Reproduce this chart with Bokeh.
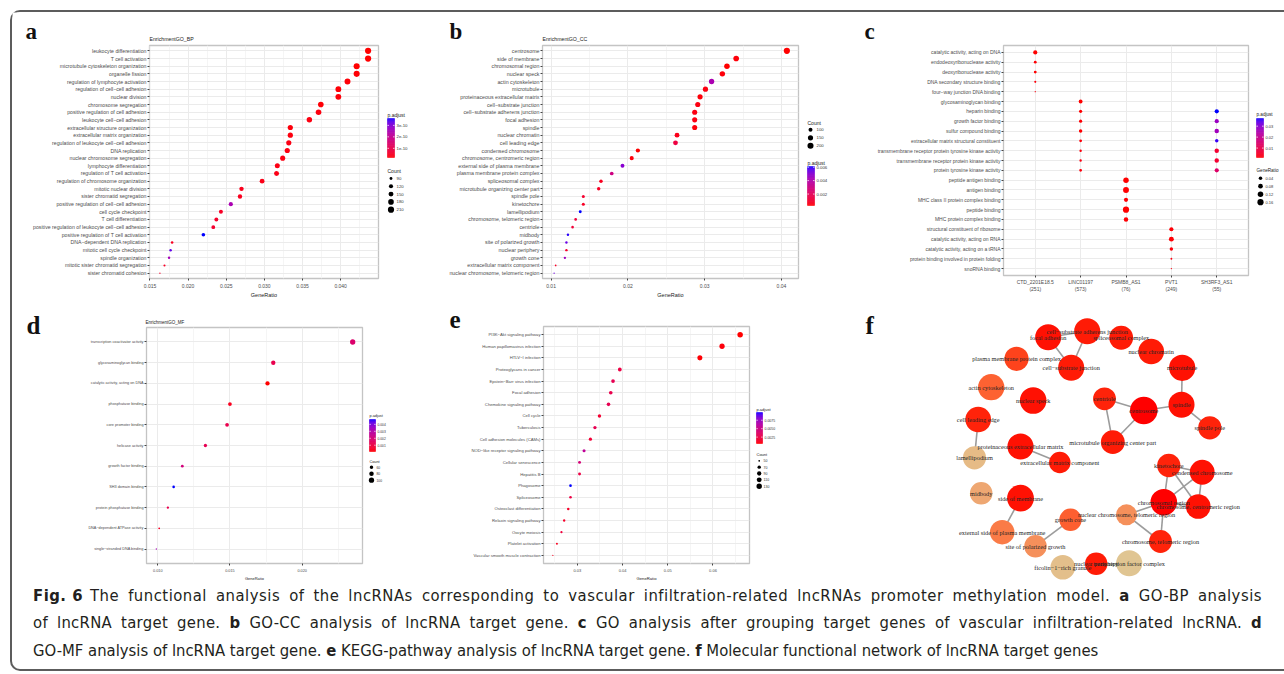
import numpy as np
from bokeh.plotting import figure
from bokeh.models import ColumnDataSource, Range1d, FactorRange, LinearColorMapper, FixedTicker, PrintfTickFormatter, Div
from bokeh.layouts import row, column
from bokeh.core.properties import value
from bokeh.embed import file_html
from bokeh.resources import INLINE

SANS = "Liberation Sans"
SERIF = "Liberation Serif"

# ------------------------------------------------------------------ DATA
# (a) GO biological process
bp_terms = ["leukocyte differentiation", "T cell activation", "microtubule cytoskeleton organization",
            "organelle fission", "regulation of lymphocyte activation", "regulation of cell−cell adhesion",
            "nuclear division", "chromosome segregation", "positive regulation of cell adhesion",
            "leukocyte cell−cell adhesion", "extracellular structure organization",
            "extracellular matrix organization", "regulation of leukocyte cell−cell adhesion",
            "DNA replication", "nuclear chromosome segregation", "lymphocyte differentiation",
            "regulation of T cell activation", "regulation of chromosome organization",
            "mitotic nuclear division", "sister chromatid segregation",
            "positive regulation of cell−cell adhesion", "cell cycle checkpoint", "T cell differentiation",
            "positive regulation of leukocyte cell−cell adhesion", "positive regulation of T cell activation",
            "DNA−dependent DNA replication", "mitotic cell cycle checkpoint", "spindle organization",
            "mitotic sister chromatid segregation", "sister chromatid cohesion"]
bp_ratio = [0.0436, 0.0436, 0.0421, 0.0421, 0.0409, 0.0397, 0.0397, 0.0374, 0.0371, 0.0359,
            0.0334, 0.0334, 0.0332, 0.0330, 0.0324, 0.0317, 0.0316, 0.0297, 0.0270, 0.0268,
            0.0256, 0.0243, 0.0237, 0.0233, 0.0220, 0.0179, 0.0177, 0.0175, 0.0169, 0.0163]
bp_count = [210, 210, 203, 203, 197, 191, 191, 180, 179, 173, 161, 161, 160, 159, 156, 153, 152, 143,
            130, 129, 123, 117, 114, 112, 106, 86, 85, 84, 81, 78]
bp_padj = [2.0e-11, 2.2e-11, 2.1e-11, 2.3e-11, 2.5e-11, 2.4e-11, 2.6e-11, 2.5e-11, 2.8e-11, 3.0e-11,
           2.7e-11, 2.9e-11, 3.2e-11, 3.0e-11, 3.1e-11, 3.3e-11, 3.4e-11, 3.5e-11, 4.0e-11, 4.2e-11,
           2.5e-10, 5.0e-11, 5.5e-11, 6.0e-11, 3.6e-10, 4.5e-11, 3.3e-10, 2.6e-10, 5.0e-11, 5.5e-11]
bp_xticks = [0.015, 0.020, 0.025, 0.030, 0.035, 0.040]
bp_xminor = [0.0175, 0.0225, 0.0275, 0.0325, 0.0375, 0.0425]
bp_count_legend = [90, 120, 150, 180, 210]
bp_padj_ticks = [1e-10, 2e-10, 3e-10]

# (b) GO cellular component
cc_terms = ["centrosome", "side of membrane", "chromosomal region", "nuclear speck", "actin cytoskeleton",
            "microtubule", "proteinaceous extracellular matrix", "cell−substrate junction",
            "cell−substrate adherens junction", "focal adhesion", "spindle", "nuclear chromatin",
            "cell leading edge", "condensed chromosome", "chromosome, centromeric region",
            "external side of plasma membrane", "plasma membrane protein complex", "spliceosomal complex",
            "microtubule organizing center part", "spindle pole", "kinetochore", "lamellipodium",
            "chromosome, telomeric region", "centriole", "midbody", "site of polarized growth",
            "nuclear periphery", "growth cone", "extracellular matrix component",
            "nuclear chromosome, telomeric region"]
cc_ratio = [0.0407, 0.0341, 0.0329, 0.0323, 0.0309, 0.0301, 0.0294, 0.0291, 0.0287, 0.0287,
            0.0287, 0.0264, 0.0262, 0.0213, 0.0205, 0.0193, 0.0179, 0.0165, 0.0162, 0.0142,
            0.0142, 0.0138, 0.0132, 0.0128, 0.0122, 0.0120, 0.0120, 0.0118, 0.0106, 0.0104]
cc_count = [208, 174, 168, 165, 158, 153, 150, 149, 147, 147, 147, 135, 134, 108, 104, 98, 91, 84, 82,
            72, 72, 70, 67, 65, 62, 61, 61, 60, 54, 53]
cc_padj = [0.0003, 0.0004, 0.0003, 0.0004, 0.0042, 0.0005, 0.0004, 0.0005, 0.0005, 0.0005,
           0.0004, 0.0006, 0.0014, 0.0003, 0.0004, 0.0050, 0.0030, 0.0007, 0.0008, 0.0010,
           0.0008, 0.0061, 0.0013, 0.0012, 0.0060, 0.0055, 0.0009, 0.0046, 0.0008, 0.0054]
cc_xticks = [0.01, 0.02, 0.03, 0.04]
cc_xminor = [0.015, 0.025, 0.035]
cc_count_legend = [100, 150, 200]
cc_padj_ticks = [0.002, 0.004, 0.006]

# (c) GO by lncRNA cluster
c_clusters = ["CTD_2201E18.5\n(251)", "LINC01197\n(573)", "PSMB8_AS1\n(76)", "PVT1\n(249)", "SH3RF3_AS1\n(55)"]
c_terms = ["catalytic activity, acting on DNA", "endodeoxyribonuclease activity", "deoxyribonuclease activity",
           "DNA secondary structure binding", "four−way junction DNA binding", "glycosaminoglycan binding",
           "heparin binding", "growth factor binding", "sulfur compound binding",
           "extracellular matrix structural constituent",
           "transmembrane receptor protein tyrosine kinase activity",
           "transmembrane receptor protein kinase activity", "protein tyrosine kinase activity",
           "peptide antigen binding", "antigen binding", "MHC class II protein complex binding",
           "peptide binding", "MHC protein complex binding", "structural constituent of ribosome",
           "catalytic activity, acting on RNA", "catalytic activity, acting on a tRNA",
           "protein binding involved in protein folding", "snoRNA binding"]
c_pt_cluster = [0] * 5 + [1] * 8 + [2] * 5 + [3] * 5 + [4] * 7
c_pt_term = [0, 1, 2, 3, 4, 5, 6, 7, 8, 9, 10, 11, 12, 13, 14, 15, 16, 17, 18, 19, 20, 21, 22,
             6, 7, 8, 9, 10, 11, 12]
c_pt_ratio = [0.060, 0.024, 0.024, 0.014, 0.010,
              0.050, 0.031, 0.031, 0.038, 0.024, 0.018, 0.018, 0.024,
              0.118, 0.140, 0.060, 0.157, 0.071,
              0.060, 0.088, 0.038, 0.012, 0.010,
              0.060, 0.060, 0.071, 0.038, 0.071, 0.071, 0.060]
c_pt_padj = [0.0015, 0.0018, 0.0016, 0.0020, 0.0022,
             0.0014, 0.0016, 0.0018, 0.0016, 0.0020, 0.0022, 0.0024, 0.0022,
             0.0015, 0.0016, 0.0018, 0.0015, 0.0017,
             0.0019, 0.0017, 0.0020, 0.0024, 0.0026,
             0.0370, 0.0280, 0.0270, 0.0360, 0.0060, 0.0060, 0.0140]
c_ratio_legend = [0.04, 0.08, 0.12, 0.16]
c_padj_ticks = [0.01, 0.02, 0.03]

# (d) GO molecular function
mf_terms = ["transcription coactivator activity", "glycosaminoglycan binding",
            "catalytic activity, acting on DNA", "phosphatase binding", "core promoter binding",
            "helicase activity", "growth factor binding", "SH3 domain binding",
            "protein phosphatase binding", "DNA−dependent ATPase activity", "single−stranded DNA binding"]
mf_ratio = [0.0235, 0.0180, 0.0176, 0.0150, 0.0148, 0.0133, 0.0117, 0.0111, 0.0107, 0.0101, 0.0099]
mf_count = [101, 77, 76, 64, 64, 57, 50, 48, 46, 43, 42]
mf_padj = [0.0018, 0.0012, 0.0001, 0.0004, 0.0012, 0.0013, 0.0021, 0.0047, 0.0012, 0.0005, 0.0033]
mf_xticks = [0.010, 0.015, 0.020]
mf_xminor = [0.0125, 0.0175, 0.0225]
mf_count_legend = [60, 80, 100]
mf_padj_ticks = [0.001, 0.002, 0.003, 0.004]

# (e) KEGG pathways
kegg_terms = ["PI3K−Akt signaling pathway", "Human papillomavirus infection", "HTLV−I infection",
              "Proteoglycans in cancer", "Epstein−Barr virus infection", "Focal adhesion",
              "Chemokine signaling pathway", "Cell cycle", "Tuberculosis", "Cell adhesion molecules (CAMs)",
              "NOD−like receptor signaling pathway", "Cellular senescence", "Hepatitis B", "Phagosome",
              "Spliceosome", "Osteoclast differentiation", "Relaxin signaling pathway", "Oocyte meiosis",
              "Platelet activation", "Vascular smooth muscle contraction"]
kegg_ratio = [0.0660, 0.0620, 0.0571, 0.0394, 0.0379, 0.0374, 0.0369, 0.0349, 0.0339, 0.0329,
              0.0315, 0.0305, 0.0305, 0.0285, 0.0285, 0.0280, 0.0271, 0.0265, 0.0255, 0.0246]
kegg_count = [132, 124, 114, 79, 76, 75, 74, 70, 68, 66, 63, 61, 61, 57, 57, 56, 54, 53, 51, 49]
kegg_padj = [0.0006, 0.0008, 0.0007, 0.0025, 0.0030, 0.0028, 0.0030, 0.0018, 0.0030, 0.0020,
             0.0058, 0.0045, 0.0025, 0.0098, 0.0025, 0.0015, 0.0015, 0.0022, 0.0012, 0.0012]
kegg_xticks = [0.03, 0.04, 0.05, 0.06]
kegg_xminor = [0.025, 0.035, 0.045, 0.055, 0.065]
kegg_count_legend = [50, 70, 90, 110, 130]
kegg_padj_ticks = [0.0025, 0.0050, 0.0075]

# (f) network of GO-CC terms (layout coordinates, gene counts, p.adjust)
net_nodes = ["focal adhesion", "cell−substrate adherens junction", "spliceosomal complex", "nuclear chromatin",
             "microtubule", "plasma membrane protein complex", "cell−substrate junction", "actin cytoskeleton",
             "nuclear speck", "centriole", "centrosome", "spindle", "spindle pole", "cell leading edge",
             "microtubule organizing center part", "proteinaceous extracellular matrix", "lamellipodium",
             "extracellular matrix component", "kinetochore", "condensed chromosome", "midbody",
             "side of membrane", "chromosomal region", "chromosome, centromeric region",
             "nuclear chromosome, telomeric region", "growth cone", "external side of plasma membrane",
             "site of polarized growth", "chromosome, telomeric region", "ficolin−1−rich granule",
             "nuclear periphery", "transcription factor complex"]
net_x = [197.7, 236.7, 270.7, 300.7, 331.7, 166.0, 220.7, 140.7, 182.7, 254.0, 293.3, 331.0, 359.3, 127.7,
         262.3, 170.0, 124.0, 209.3, 318.3, 351.7, 130.7, 170.0, 313.3, 347.7, 276.0, 220.0, 151.7, 185.0,
         310.0, 212.3, 245.7, 278.7]
net_y = [36.7, 30.7, 37.3, 51.0, 67.3, 58.3, 67.3, 86.7, 100.0, 98.3, 110.0, 104.3, 127.3, 119.0, 141.7,
         146.0, 157.3, 162.0, 165.0, 171.7, 192.7, 197.7, 201.7, 206.0, 214.3, 219.3, 231.7, 245.7, 241.0,
         266.7, 263.3, 262.7]
net_count = [147, 147, 84, 135, 153, 91, 149, 158, 165, 65, 208, 147, 72, 134, 82, 150, 70, 54, 72, 108,
             62, 174, 168, 104, 53, 60, 98, 61, 67, 101, 61, 148]
net_padj = [0.0004, 0.0005, 0.0005, 0.0005, 0.0004, 0.0012, 0.0005, 0.0021, 0.0004, 0.0006, 0.0003,
            0.0004, 0.0006, 0.0006, 0.0005, 0.0004, 0.0058, 0.0005, 0.0006, 0.0004, 0.0049, 0.0004,
            0.0003, 0.0004, 0.0039, 0.0020, 0.0030, 0.0039, 0.0006, 0.0060, 0.0005, 0.0063]
net_edges = [("focal adhesion", "cell−substrate adherens junction"),
             ("focal adhesion", "cell−substrate junction"),
             ("cell−substrate adherens junction", "cell−substrate junction"),
             ("microtubule", "spindle"), ("centriole", "centrosome"),
             ("centriole", "microtubule organizing center part"),
             ("centrosome", "microtubule organizing center part"), ("centrosome", "spindle"),
             ("spindle", "spindle pole"), ("cell leading edge", "lamellipodium"),
             ("proteinaceous extracellular matrix", "extracellular matrix component"),
             ("kinetochore", "condensed chromosome"), ("kinetochore", "chromosomal region"),
             ("kinetochore", "chromosome, centromeric region"),
             ("condensed chromosome", "chromosomal region"),
             ("condensed chromosome", "chromosome, centromeric region"),
             ("chromosomal region", "chromosome, centromeric region"),
             ("chromosomal region", "chromosome, telomeric region"),
             ("chromosomal region", "nuclear chromosome, telomeric region"),
             ("nuclear chromosome, telomeric region", "chromosome, telomeric region"),
             ("side of membrane", "external side of plasma membrane"),
             ("growth cone", "site of polarized growth")]

panel_letters = ["a", "b", "c", "d", "e", "f"]
panel_titles = ["EnrichmentGO_BP", "EnrichmentGO_CC", "EnrichmentGO_MF"]

caption_lines = [
    '<span style="display:inline-block; margin-right:7px;"><b>Fig.&nbsp;6</b></span>'
    "The functional analysis of the lncRNAs corresponding to vascular infiltration-related "
    "lncRNAs promoter methylation model. <b>a</b> GO-BP analysis",
    "of lncRNA target gene. <b>b</b> GO-CC analysis of lncRNA target gene. <b>c</b> GO analysis after grouping "
    "target genes of vascular infiltration-related lncRNA. <b>d</b>",
    "GO-MF analysis of lncRNA target gene. <b>e</b> KEGG-pathway analysis of lncRNA target gene. "
    "<b>f</b> Molecular functional network of lncRNA target genes",
]
caption_letter_spacing = ["0.5px", "0.3px", "0px"]

# ------------------------------------------------------------------ colour helpers (Lab interpolation)
_M = np.array([[0.4124, 0.3576, 0.1805], [0.2126, 0.7152, 0.0722], [0.0193, 0.1192, 0.9505]])
_W = np.array([0.95047, 1.0, 1.08883])


def _rgb2lab(rgb):
    c = np.array(rgb, float) / 255.0
    lin = np.where(c <= 0.04045, c / 12.92, ((c + 0.055) / 1.055) ** 2.4)
    xyz = (_M @ lin) / _W
    f = np.where(xyz > 0.008856, np.cbrt(xyz), 7.787 * xyz + 16 / 116)
    return np.array([116 * f[1] - 16, 500 * (f[0] - f[1]), 200 * (f[1] - f[2])])


def _lab2hex(lab):
    L, a, b = lab
    fy = (L + 16) / 116
    f = np.array([fy + a / 500, fy, fy - b / 200])
    xyz = np.where(f ** 3 > 0.008856, f ** 3, (f - 16 / 116) / 7.787) * _W
    lin = np.clip(np.linalg.solve(_M, xyz), 0, 1)
    c = np.where(lin <= 0.0031308, 12.92 * lin, 1.055 * lin ** (1 / 2.4) - 0.055)
    r, g, bb = np.clip(np.round(c * 255), 0, 255).astype(int)
    return "#%02x%02x%02x" % (r, g, bb)


def lab_palette(c0, c1, n=256):
    l0, l1 = _rgb2lab(c0), _rgb2lab(c1)
    return [_lab2hex(l0 + (l1 - l0) * t) for t in np.linspace(0, 1, n)]


PAL_RB = lab_palette((255, 0, 0), (0, 0, 255))
PAL_NET = lab_palette((255, 0, 0), (224, 197, 146))


def size_map(v, lo, hi, dmin, dmax):
    t = np.clip((np.asarray(v, float) - lo) / (hi - lo), 0, 1)
    return (dmin + (dmax - dmin) * np.sqrt(t)).tolist()


# ------------------------------------------------------------------ builders
def blank_figure(box):
    """Axis-less figure whose data coordinates equal page pixels (y downwards)."""
    x0, y0, x1, y1 = box
    p = figure(width=x1 - x0, height=y1 - y0, x_range=Range1d(x0, x1), y_range=Range1d(y1, y0),
               x_axis_type=None, y_axis_type=None, output_backend="svg", toolbar_location=None,
               title=None, min_border=0, min_border_left=0, min_border_right=0,
               min_border_top=0, min_border_bottom=0)
    p.frame_align = False
    p.outline_line_color = None
    p.background_fill_color = "white"
    p.border_fill_color = "white"
    return p


def add_text(p, x, y, text, size, font=SANS, bold=False, baseline="middle", align="left", color="#111111"):
    p.text(x=[x], y=[y], text=[text], text_font=value(font), text_font_size=value(size),
           text_font_style=value("bold" if bold else "normal"), text_baseline=baseline,
           text_align=align, text_color=color)


def panel_figure(box, frame, x_range, y_range, fs_y, fs_x, fs_lab):
    fx0, fy0, fx1, fy1 = box
    rx0, ry0, rx1, ry1 = frame
    p = figure(width=fx1 - fx0, height=fy1 - fy0, x_range=x_range, y_range=y_range,
               output_backend="svg", toolbar_location=None, title=None,
               min_border_left=rx0 - fx0, min_border_right=fx1 - rx1,
               min_border_top=ry0 - fy0, min_border_bottom=fy1 - ry1)
    p.frame_align = False
    p.outline_line_color = "#c4c4c4"
    p.outline_line_width = 1.3
    p.background_fill_color = "white"
    p.border_fill_color = "white"
    p.xgrid.grid_line_color = "#ebebeb"
    p.ygrid.grid_line_color = "#ebebeb"
    p.xgrid.minor_grid_line_color = "#f5f5f5"
    for ax in p.axis:
        ax.axis_line_color = None
        ax.major_tick_line_color = "#444444"
        ax.major_tick_out = 2
        ax.major_tick_in = 0
        ax.minor_tick_line_color = None
        ax.major_label_text_font = SANS
        ax.major_label_text_color = "#4d4d4d"
        ax.major_label_standoff = 1
        ax.axis_label_text_font = SANS
        ax.axis_label_text_font_style = "normal"
        ax.axis_label_text_color = "#1a1a1a"
        ax.axis_label_text_font_size = fs_lab
        ax.axis_label_standoff = 1
    p.yaxis.major_label_text_font_size = fs_y
    p.xaxis.major_label_text_font_size = fs_x
    return p


def set_x_ticks(p, ticks, minor, fmt):
    t = FixedTicker(ticks=ticks, minor_ticks=minor)
    p.xaxis.ticker = t
    p.xgrid.ticker = t
    p.xaxis.formatter = PrintfTickFormatter(format=fmt)


def expanded(vals, frac=0.05):
    lo, hi = min(vals), max(vals)
    pad = (hi - lo) * frac
    return Range1d(lo - pad, hi + pad)


def cat_range(factors):
    return FactorRange(factors=factors, range_padding=0.2, range_padding_units="absolute")


def legend_panel(box, mapper, cb, sz, fs_title, fs_lab):
    p = blank_figure(box)
    # colour bar (p.adjust)
    bx, btop, bw, bh, ticks, fmt, tty = cb
    lo, hi = mapper.low, mapper.high
    n = 60
    vals = [lo + (k + 0.5) / n * (hi - lo) for k in range(n)]
    bottoms = [btop + bh - k * bh / n for k in range(n)]
    tops = [btop + bh - (k + 1) * bh / n for k in range(n)]
    tr = {"field": "v", "transform": mapper}
    p.quad(left=bx, right=bx + bw, bottom="b", top="t",
           source=ColumnDataSource(dict(v=vals, b=bottoms, t=tops)),
           fill_color=tr, line_color=tr, line_width=0.4)
    ty = [btop + bh - (t - lo) / (hi - lo) * bh for t in ticks]
    tl = bw / 5.0
    p.segment(x0=[bx] * len(ty), x1=[bx + tl] * len(ty), y0=ty, y1=ty, line_color="white", line_width=0.8)
    p.segment(x0=[bx + bw - tl] * len(ty), x1=[bx + bw] * len(ty), y0=ty, y1=ty, line_color="white",
              line_width=0.8)
    p.text(x=[bx + bw + 2] * len(ty), y=ty, text=[fmt % t for t in ticks], text_font=value(SANS),
           text_font_size=value(fs_lab), text_baseline="middle", text_align="left", text_color="#333333")
    add_text(p, bx, tty, "p.adjust", fs_title, color="#1a1a1a")
    # size legend
    title, tx, ty0, cx, cy0, dy, vals2, labels, sizes, lx = sz
    ys = [cy0 + i * dy for i in range(len(vals2))]
    add_text(p, tx, ty0, title, fs_title, color="#1a1a1a")
    p.scatter(x=[cx] * len(vals2), y=ys, size=sizes, fill_color="black", line_color=None)
    p.text(x=[lx] * len(vals2), y=ys, text=labels, text_font=value(SANS), text_font_size=value(fs_lab),
           text_baseline="middle", text_align="left", text_color="#333333")
    return p


def dotplot(box, frame, terms, ratio, counts, padj, xticks, xminor, fmt, fs_y, fs_x, fs_lab, dmin, dmax):
    mapper = LinearColorMapper(palette=PAL_RB, low=min(padj), high=max(padj))
    p = panel_figure(box, frame, expanded(ratio), cat_range(terms[::-1]), fs_y, fs_x, fs_lab)
    src = ColumnDataSource(dict(x=ratio, y=terms, s=size_map(counts, min(counts), max(counts), dmin, dmax),
                                c=padj))
    p.scatter("x", "y", size="s", source=src, fill_color={"field": "c", "transform": mapper}, line_color=None)
    set_x_ticks(p, xticks, xminor, fmt)
    p.xaxis.axis_label = "GeneRatio"
    return p, mapper


LETTER = "25px"
LETTER_TOP = "23px"
TOP_Y = 44          # bottom of the header strip / top of the first row of panels
# panel letters are placed by their vertical middle (text_baseline="middle")

# ------------------------------------------------------------------ header strip above a, b, c
hdr = blank_figure((12, 12, 1284, TOP_Y))
add_text(hdr, 25, 31.0, panel_letters[0], LETTER_TOP, font=SERIF, bold=True)
add_text(hdr, 449, 31.0, panel_letters[1], LETTER_TOP, font=SERIF, bold=True)
add_text(hdr, 864, 31.0, panel_letters[2], LETTER_TOP, font=SERIF, bold=True)
add_text(hdr, 149, 38, panel_titles[0], "5.2px", color="#1a1a1a")
add_text(hdr, 542, 38, panel_titles[1], "5.2px", color="#1a1a1a")

# ------------------------------------------------------------------ panel a
pa, map_a = dotplot((12, TOP_Y, 382, 300), (149, 45, 378, 282), bp_terms, bp_ratio, bp_count, bp_padj,
                    bp_xticks, bp_xminor, "%.3f", "5.2px", "5px", "5.5px", 1.4, 6.2)
la = legend_panel((382, TOP_Y, 430, 300), map_a, (387, 118, 7, 39, bp_padj_ticks, "%.0e", 114),
                  ("Count", 387, 170, 390.5, 178, 7.8, bp_count_legend, [str(v) for v in bp_count_legend],
                   size_map(bp_count_legend, min(bp_count), max(bp_count), 1.4, 6.2), 396),
                  "5px", "4.3px")

# ------------------------------------------------------------------ panel b
pb, map_b = dotplot((430, TOP_Y, 805, 300), (542, 45, 798, 282), cc_terms, cc_ratio, cc_count, cc_padj,
                    cc_xticks, cc_xminor, "%.2f", "5.3px", "5px", "5.5px", 1.3, 6.2)
lb = legend_panel((805, TOP_Y, 850, 300), map_b, (807, 166, 7, 39, cc_padj_ticks, "%.3f", 162.3),
                  ("Count", 807, 122, 810, 129.3, 8, cc_count_legend, [str(v) for v in cc_count_legend],
                   size_map(cc_count_legend, min(cc_count), max(cc_count), 1.3, 6.2), 816),
                  "5px", "4.3px")

# ------------------------------------------------------------------ panel c
map_c = LinearColorMapper(palette=PAL_RB, low=min(c_pt_padj), high=max(c_pt_padj))
pc = panel_figure((850, TOP_Y, 1252, 300), (1003, 45, 1248, 275), cat_range(c_clusters), cat_range(c_terms[::-1]),
                  "5px", "5px", "5px")
src_c = ColumnDataSource(dict(x=[c_clusters[i] for i in c_pt_cluster], y=[c_terms[i] for i in c_pt_term],
                              s=size_map(c_pt_ratio, min(c_pt_ratio), max(c_pt_ratio), 1.3, 6.2),
                              c=c_pt_padj))
pc.scatter("x", "y", size="s", source=src_c, fill_color={"field": "c", "transform": map_c}, line_color=None)
lc = legend_panel((1252, TOP_Y, 1284, 300), map_c, (1256, 118, 7, 39, c_padj_ticks, "%.2f", 114.3),
                  ("GeneRatio", 1256, 170, 1260, 177.7, 8, c_ratio_legend, ["%.2f" % v for v in c_ratio_legend],
                   size_map(c_ratio_legend, min(c_pt_ratio), max(c_pt_ratio), 1.3, 6.2), 1265),
                  "4.6px", "4.0px")

# ------------------------------------------------------------------ panel d
dl = blank_figure((12, 300, 80, 583))
add_text(dl, 26, 324.5, panel_letters[3], LETTER, font=SERIF, bold=True)
dh = blank_figure((80, 300, 366, 326))
add_text(dh, 145, 322.3, panel_titles[2], "4.5px", color="#1a1a1a")
pd_, map_d = dotplot((80, 326, 366, 583), (146, 327, 362, 569), mf_terms, mf_ratio, mf_count, mf_padj,
                     mf_xticks, mf_xminor, "%.3f", "3.8px", "3.8px", "4px", 1.3, 5.3)
ld = legend_panel((366, 300, 430, 583), map_d, (369, 419, 6, 32, mf_padj_ticks, "%.3f", 415.3),
                  ("Count", 369, 461, 371, 466.7, 6.5, mf_count_legend, [str(v) for v in mf_count_legend],
                   size_map(mf_count_legend, min(mf_count), max(mf_count), 1.3, 5.3), 376),
                  "3.8px", "3.3px")

# ------------------------------------------------------------------ panel e
el = blank_figure((430, 300, 468, 583))
add_text(el, 449, 318.5, panel_letters[4], LETTER, font=SERIF, bold=True)
pe, map_e = dotplot((468, 300, 755, 583), (543, 326, 749, 569), kegg_terms, kegg_ratio, kegg_count, kegg_padj,
                    kegg_xticks, kegg_xminor, "%.2f", "4.2px", "4px", "4.2px", 1.3, 5.5)
le = legend_panel((755, 300, 850, 583), map_e, (756, 412, 6, 31, kegg_padj_ticks, "%.4f", 409),
                  ("Count", 756, 454, 758.7, 460.3, 6.35, kegg_count_legend, [str(v) for v in kegg_count_legend],
                   size_map(kegg_count_legend, min(kegg_count), max(kegg_count), 1.3, 5.5), 763),
                  "4px", "3.5px")

# ------------------------------------------------------------------ panel f (network)
pf = figure(width=434, height=283, x_range=Range1d(0, 434), y_range=Range1d(283, 0),
            x_axis_type=None, y_axis_type=None, output_backend="svg", toolbar_location=None, title=None,
            min_border=0, min_border_left=0, min_border_right=0, min_border_top=0, min_border_bottom=0)
pf.frame_align = False
pf.outline_line_color = None
pf.background_fill_color = "white"
pf.border_fill_color = "white"
idx = {n: i for i, n in enumerate(net_nodes)}
pf.segment(x0=[net_x[idx[a]] for a, b in net_edges], y0=[net_y[idx[a]] for a, b in net_edges],
           x1=[net_x[idx[b]] for a, b in net_edges], y1=[net_y[idx[b]] for a, b in net_edges],
           line_color="#9c9c9c", line_width=1.6)
map_f = LinearColorMapper(palette=PAL_NET, low=min(net_padj), high=max(net_padj))
src_f = ColumnDataSource(dict(x=net_x, y=net_y, name=net_nodes, c=net_padj,
                              s=size_map(net_count, min(net_count), max(net_count), 21.0, 27.5)))
pf.scatter("x", "y", size="s", source=src_f, fill_color={"field": "c", "transform": map_f}, line_color=None)
pf.text("x", "y", text="name", source=src_f, text_font=value(SERIF), text_font_size=value("6.3px"),
        text_align="center", text_baseline="middle", text_color="#262626")
add_text(pf, 15, 24.5, panel_letters[5], LETTER, font=SERIF, bold=True)

# ------------------------------------------------------------------ caption
line_html = []
for i, ln in enumerate(caption_lines):
    if i < len(caption_lines) - 1:
        line_html.append('<div style="width:1229px; white-space:nowrap; text-align:justify; '
                         'text-align-last:justify; letter-spacing:%s;">' % caption_letter_spacing[i]
                         + ln + '</div>')
    else:
        line_html.append('<div style="white-space:nowrap;">' + ln + '</div>')
cap = Div(text=(
    '<div style="position:relative; top:-1px; padding-left:21px; '
    'font-family:\'DejaVu Sans Condensed\',\'Liberation Sans Narrow\',\'DejaVu Sans\',sans-serif; '
    'font-stretch:condensed; font-size:16.5px; line-height:27.3px; color:#231f20;">'
    + "".join(line_html) + "</div>"), width=1272, height=86, margin=0)

top = row(pa, la, pb, lb, pc, lc)
bottom = row(dl, column(dh, pd_), ld, el, pe, le, pf)
root = column(hdr, top, bottom, cap, margin=(10, 0, 0, 10),
              styles={"border-top": "2px solid #5c5c5c", "border-left": "2px solid #5c5c5c",
                      "border-bottom": "2px solid #5c5c5c", "border-top-left-radius": "10px",
                      "border-bottom-left-radius": "10px"})

open("out.html", "w").write(file_html(root, INLINE))
